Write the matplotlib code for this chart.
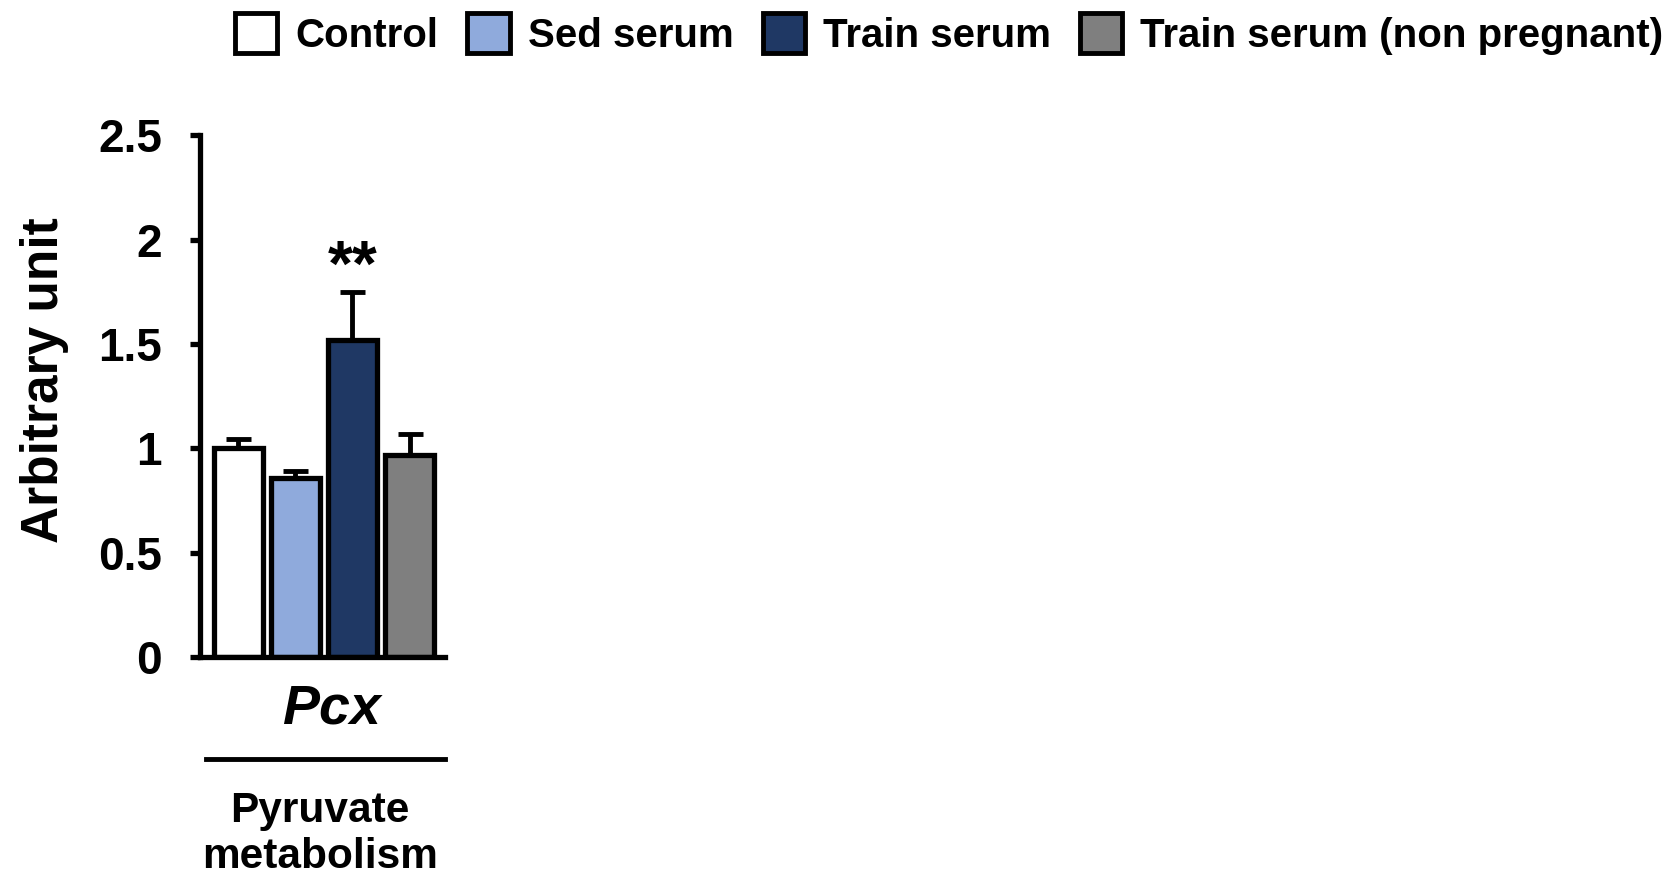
import numpy as np
import matplotlib
matplotlib.use("Agg")
import matplotlib.pyplot as plt
from matplotlib.patches import Patch
from matplotlib.lines import Line2D

plt.rcParams['font.family'] = ['Liberation Sans', 'DejaVu Sans']
plt.rcParams['font.weight'] = 'bold'

# expression data for Pcx
groups = ['Control', 'Sed serum', 'Train serum', 'Train serum (non pregnant)']
means = [1.00, 0.86, 1.52, 0.97]
sems = [0.045, 0.03, 0.23, 0.10]
colors = ['#FFFFFF', '#8FAADC', '#1F3864', '#7F7F7F']
yticks = [0, 0.5, 1, 1.5, 2, 2.5]
ytick_labels = ['0', '0.5', '1', '1.5', '2', '2.5']
gene = 'Pcx'
pathway = 'Pyruvate\nmetabolism'
signif = '**'

W, H = 1673, 877
fig = plt.figure(figsize=(W / 100, H / 100), dpi=100)
ax = fig.add_axes([199.5 / W, 220 / H, (445 - 199.5) / W, (741.5 - 220) / H])

x = np.arange(len(groups))
ax.errorbar(x, means, yerr=[np.zeros(len(sems)), sems], fmt='none',
            ecolor='black', elinewidth=3.5, capsize=9, capthick=3.5, zorder=1)
ax.bar(x, means, width=0.86, color=colors, edgecolor='black', linewidth=3.8, zorder=2)

ax.text(x[2], means[2] + sems[2] + 0.11, signif, ha='center', va='center',
        fontsize=46, fontweight='bold')

ax.set_xlim(-0.675, 3.62)
ax.set_ylim(0, 2.5)
ax.set_yticks(yticks)
ax.set_yticklabels(ytick_labels, fontsize=33, fontweight='bold')
ax.set_xticks([])
ax.spines['top'].set_visible(False)
ax.spines['right'].set_visible(False)
for s in ['left', 'bottom']:
    ax.spines[s].set_linewidth(3.8)
ax.tick_params(axis='y', direction='out', length=7, width=3.8, pad=20)
ax.set_ylabel('Arbitrary unit', fontsize=37, fontweight='bold')
ax.yaxis.set_label_coords(-(199.5 - 69) / 245.5, 0.53)

# gene name and pathway group below the axis
fig.text(331 / W, 1 - 709 / H, gene, ha='center', va='center', fontsize=40,
         fontweight='bold', fontstyle='italic')
fig.add_artist(Line2D([206 / W, 445 / W], [1 - 758.6 / H] * 2, color='black', lw=3.5))
fig.text(320 / W, 1 - 834 / H, pathway, ha='center', va='center', fontsize=30.5,
         fontweight='bold', linespacing=1.2)

handles = [Patch(facecolor=c, edgecolor='black', linewidth=3.5) for c in colors]
fig.legend(handles, groups, loc='center left', bbox_to_anchor=(235 / W, 1 - 34 / H),
           ncol=4, frameon=False, handlelength=1.05, handleheight=1.15,
           handletextpad=0.45, columnspacing=0.72, borderpad=0, borderaxespad=0,
           prop={'weight': 'bold', 'size': 29})

fig.savefig('out.png', dpi=100)
